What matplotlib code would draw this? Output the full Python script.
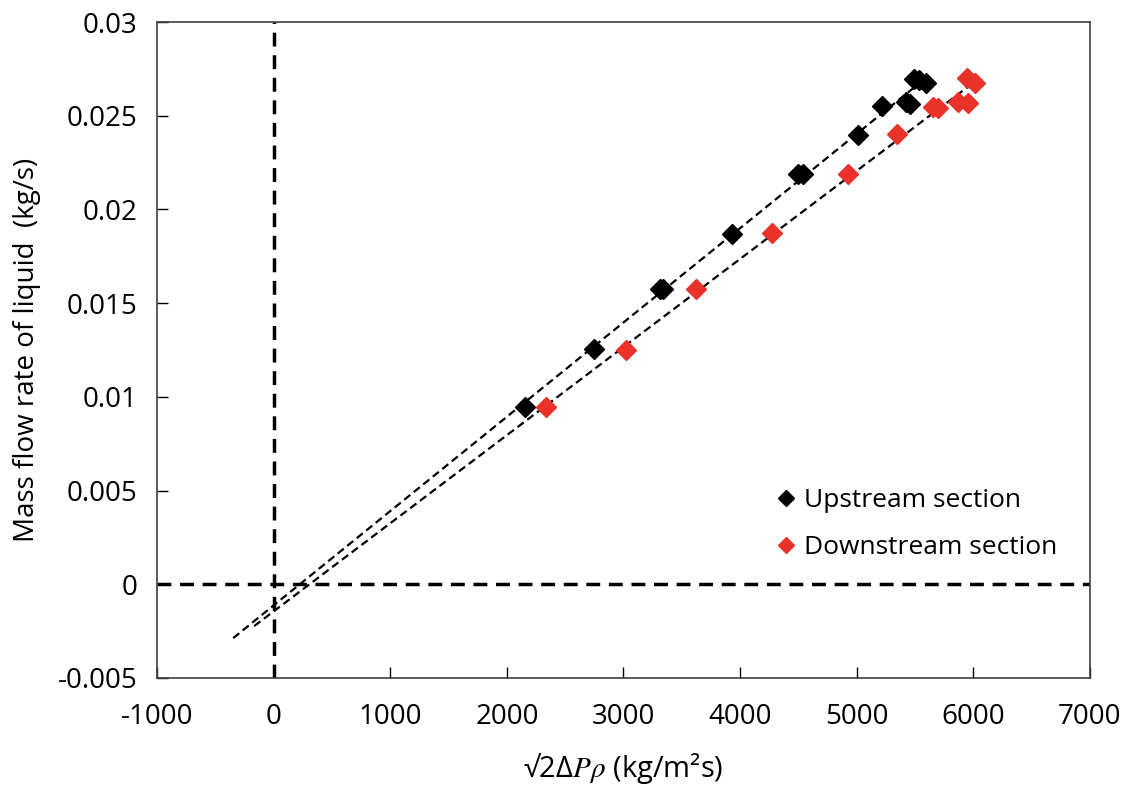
import matplotlib
matplotlib.use("Agg")
import matplotlib.pyplot as plt
import numpy as np

up_x = [2153, 2744, 3310, 3336, 3928, 4494, 4537, 5009, 5214, 5420, 5454, 5489, 5532, 5592]
up_y = [0.00944, 0.01254, 0.01574, 0.01574, 0.01868, 0.02188, 0.02188, 0.02396,
        0.02551, 0.02572, 0.02560, 0.02695, 0.02690, 0.02673]

down_x = [2333, 3019, 3619, 4271, 4923, 5343, 5652, 5695, 5866, 5952, 5943, 6012]
down_y = [0.00944, 0.01249, 0.01574, 0.01873, 0.02188, 0.02401, 0.02546, 0.02540,
          0.02572, 0.02567, 0.02700, 0.02673]

x_ticks = [-1000, 0, 1000, 2000, 3000, 4000, 5000, 6000, 7000]
y_ticks = [-0.005, 0, 0.005, 0.01, 0.015, 0.02, 0.025, 0.03]
y_labels = ["-0.005", "0", "0.005", "0.01", "0.015", "0.02", "0.025", "0.03"]

backward = 2500  # trendline forecast backward

plt.rcParams["font.family"] = ["Open Sans", "DejaVu Sans"]
plt.rcParams["mathtext.fontset"] = "stix"

fig = plt.figure(figsize=(11.33, 7.89), dpi=100)
ax = fig.add_axes([0.1386, 0.1407, 0.8234, 0.8314])

ax.axhline(0, color="black", lw=2.5, ls=(0, (4, 2.5)), zorder=1)
ax.axvline(0, color="black", lw=2.5, ls=(0, (4, 2.5)), zorder=1)

for xs, ys, col, lab in [(up_x, up_y, "black", "Upstream section"),
                         (down_x, down_y, "#e8322a", "Downstream section")]:
    xs = np.array(xs)
    ys = np.array(ys)
    k, b = np.polyfit(xs, ys, 1)
    xl = np.array([xs.min() - backward, xs.max()])
    ax.plot(xl, k * xl + b, color="black", lw=1.6, ls=(0, (3.5, 2)), zorder=2)
    ax.plot(xs, ys, ls="none", marker="D", ms=10, color=col, mec=col, label=lab, zorder=3)

ax.set_xlim(-1000, 7000)
ax.set_ylim(-0.005, 0.03)
ax.set_xticks(x_ticks)
ax.set_xticklabels([str(v) for v in x_ticks])
ax.set_yticks(y_ticks)
ax.set_yticklabels(y_labels)
ax.tick_params(direction="in", length=8, width=1, labelsize=20, pad=14)
ax.tick_params(axis="x", pad=18)
for s in ax.spines.values():
    s.set_color("#404040")
    s.set_linewidth(1.2)

ax.set_xlabel("√2Δ$P\\rho$ (kg/m²s)", fontsize=21, labelpad=14)
ax.set_ylabel("Mass flow rate of liquid  (kg/s)", fontsize=20, labelpad=12)

leg = ax.legend(loc="lower right", bbox_to_anchor=(0.99, 0.143), frameon=False,
                fontsize=19, handlelength=0.6, handletextpad=0.35, labelspacing=0.85,
                markerscale=0.85)

fig.savefig("out.png", dpi=100)
